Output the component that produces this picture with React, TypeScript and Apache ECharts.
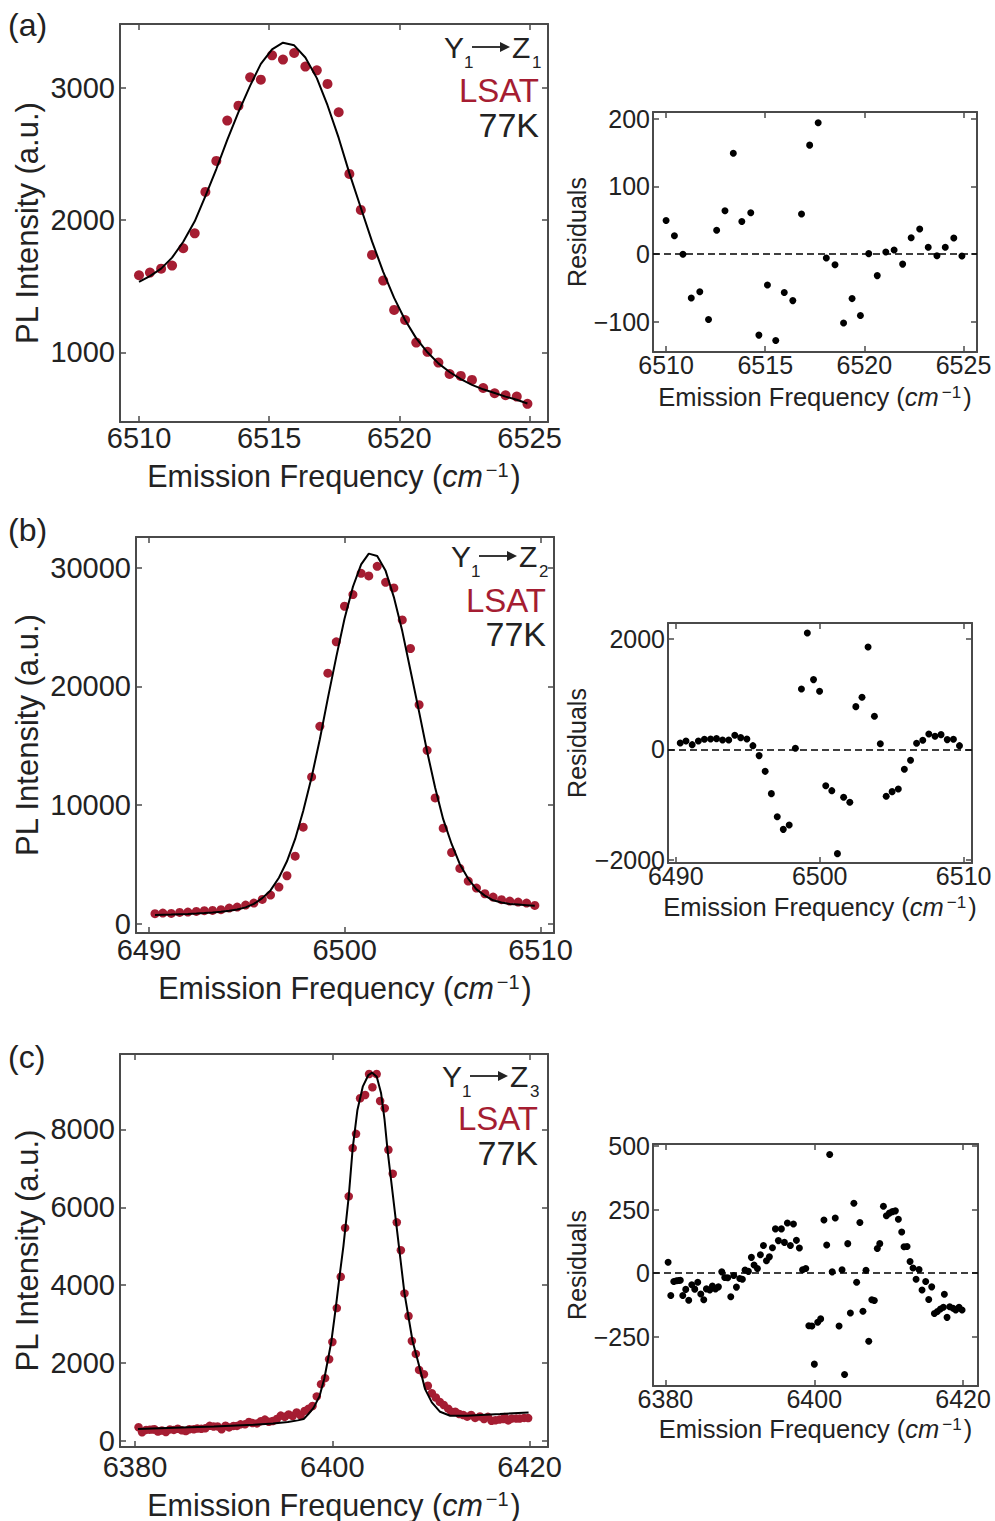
import React, { useEffect, useRef } from 'react';
import * as echarts from 'echarts';

// ---------- Panel (a): Y1 -> Z1 ----------
const A_X = [6510.00, 6510.42, 6510.85, 6511.27, 6511.70, 6512.14, 6512.55, 6512.97, 6513.39, 6513.82, 6514.27, 6514.68, 6515.11, 6515.53, 6515.96, 6516.39, 6516.83, 6517.24, 6517.67, 6518.08, 6518.52, 6518.95, 6519.38, 6519.80, 6520.22, 6520.65, 6521.08, 6521.50, 6521.93, 6522.36, 6522.79, 6523.22, 6523.66, 6524.08, 6524.51, 6524.92];
const A_Y = [1582, 1602, 1632, 1655, 1786, 1899, 2212, 2446, 2751, 2864, 3078, 3060, 3244, 3212, 3262, 3159, 3131, 3028, 2814, 2348, 2076, 1736, 1542, 1320, 1244, 1073, 1003, 922, 836, 821, 791, 730, 690, 675, 665, 610];
const A_FIT = [1532, 1575, 1632, 1715, 1835, 1990, 2180, 2385, 2605, 2815, 3015, 3180, 3290, 3340, 3320, 3228, 3072, 2867, 2620, 2354, 2092, 1838, 1608, 1411, 1244, 1105, 1000, 916, 851, 797, 754, 720, 692, 665, 641, 613];
const A_RES = [49.5, 27, -0.5, -65, -56, -97, 35, 64, 149, 48, 61, -120, -46, -128, -57, -69, 59, 161, 194, -6, -16, -102, -66, -91, 0.5, -32, 3, 6, -15, 24, 37, 10, -2.5, 10, 23.5, -3];

// ---------- Panel (b): Y1 -> Z2 ----------
const B_X = [6490.31, 6490.71, 6491.14, 6491.57, 6491.99, 6492.42, 6492.83, 6493.25, 6493.68, 6494.10, 6494.51, 6494.94, 6495.36, 6495.79, 6496.21, 6496.64, 6497.05, 6497.47, 6497.88, 6498.31, 6498.73, 6499.14, 6499.57, 6499.99, 6500.42, 6500.84, 6501.23, 6501.66, 6502.09, 6502.51, 6502.94, 6503.36, 6503.80, 6504.21, 6504.62, 6505.03, 6505.46, 6505.88, 6506.31, 6506.73, 6507.16, 6507.58, 6508.01, 6508.43, 6508.86, 6509.29, 6509.71];
const B_Y = [868, 924, 896, 980, 1008, 1064, 1120, 1148, 1204, 1345, 1429, 1597, 1765, 2073, 2437, 3109, 4062, 5714, 8151, 12381, 16639, 21120, 23753, 26751, 27731, 29524, 29300, 30112, 28768, 28291, 25602, 23193, 18459, 14622, 10616, 8067, 6022, 4678, 3613, 3025, 2549, 2269, 2045, 1933, 1849, 1765, 1569];
const B_FIT = [760, 780, 800, 825, 850, 880, 920, 970, 1030, 1110, 1220, 1400, 1690, 2180, 2830, 3900, 5280, 7160, 9520, 12360, 15550, 19020, 22490, 25700, 28390, 30270, 31180, 30980, 29730, 27520, 24660, 21340, 17860, 14520, 11470, 8830, 6740, 5040, 3810, 2920, 2390, 2000, 1810, 1690, 1640, 1590, 1540];
const B_RES = [114, 151, 84, 151, 181, 187, 193, 169, 169, 253, 211, 187, 66, -114, -398, -801, -1217, -1446, -1367, 18, 1090, 2102, 1259, 1048, -657, -747, -1885, -867, -958, 771, 940, 1849, 596, 102, -849, -765, -717, -361, -199, 108, 163, 277, 235, 265, 175, 181, 66];

// ---------- Panel (c): Y1 -> Z3 ----------
const C_X = [6380.36, 6380.72, 6381.12, 6381.48, 6381.79, 6382.00, 6382.33, 6382.73, 6383.13, 6383.54, 6383.94, 6384.34, 6384.75, 6385.15, 6385.51, 6385.96, 6386.31, 6386.72, 6387.12, 6387.57, 6387.97, 6388.37, 6388.78, 6389.18, 6389.54, 6389.99, 6390.34, 6390.70, 6391.15, 6391.55, 6391.91, 6392.36, 6392.76, 6393.17, 6393.57, 6393.97, 6394.38, 6394.78, 6395.18, 6395.58, 6395.99, 6396.39, 6396.79, 6397.20, 6397.60, 6398.00, 6398.43, 6398.86, 6399.27, 6399.68, 6400.01, 6400.46, 6400.86, 6401.30, 6401.67, 6402.07, 6402.41, 6402.82, 6403.33, 6403.73, 6404.07, 6404.50, 6404.85, 6405.32, 6405.69, 6406.13, 6406.54, 6406.95, 6407.32, 6407.73, 6408.07, 6408.47, 6408.80, 6409.29, 6409.69, 6410.09, 6410.50, 6410.90, 6411.30, 6411.75, 6412.06, 6412.47, 6412.87, 6413.27, 6413.68, 6414.08, 6414.48, 6414.97, 6415.38, 6415.78, 6416.14, 6416.54, 6416.95, 6417.35, 6417.48, 6417.84, 6418.20, 6418.65, 6419.01, 6419.45, 6419.86];
const C_Y = [354, 226, 285, 292, 296, 299, 243, 271, 232, 297, 284, 315, 273, 254, 301, 302, 320, 313, 326, 389, 371, 374, 303, 392, 349, 388, 388, 428, 428, 487, 460, 451, 509, 550, 494, 513, 564, 652, 620, 681, 643, 733, 659, 773, 829, 900, 1145, 1460, 1613, 2100, 2543, 3414, 4217, 5472, 6282, 7521, 7887, 8801, 8886, 9424, 9083, 9424, 8732, 8545, 7478, 6863, 5616, 4899, 3790, 3209, 2569, 2236, 1826, 1715, 1418, 1227, 1116, 1004, 925, 830, 752, 753, 694, 668, 625, 668, 593, 632, 566, 621, 521, 534, 549, 562, 615, 529, 577, 577, 575, 593, 588];
const C_RES = [43, -88, -33, -30, -29, -28, -88, -64, -107, -46, -63, -36, -82, -105, -62, -66, -51, -62, -54, 5, -17, -18, -93, -9, -55, -21, -24, 12, 7, 62, 32, 18, 72, 109, 49, 64, 100, 174, 128, 174, 121, 197, 109, 193, 129, 99, 13, 18, -207, -208, -358, -193, -180, 209, 111, 467, 5, 217, -208, 13, -399, 116, -157, 275, -36, 199, -150, 11, -268, -105, -108, 97, 116, 263, 226, 236, 242, 245, 212, 162, 104, 105, 46, 20, -24, 14, -66, -33, -104, -54, -159, -151, -141, -134, -83, -174, -132, -138, -145, -134, -145];
const C_FIT_X = [6380.3, 6384, 6388, 6392, 6394, 6395.5, 6396.5, 6397.1, 6397.6, 6398.1, 6398.7, 6399.2, 6399.9, 6400.35, 6400.73, 6401.13, 6401.67, 6402.07, 6402.55, 6403.09, 6403.66, 6404.05, 6404.51, 6404.95, 6405.3, 6405.6, 6406.47, 6407.32, 6408.14, 6408.9, 6409.41, 6410.09, 6410.93, 6411.95, 6413.64, 6417.0, 6419.9];
const C_FIT_Y = [310, 340, 375, 415, 450, 490, 530, 563, 700, 850, 1145, 1613, 2543, 3414, 4217, 5002, 6282, 7521, 8502, 9099, 9398, 9457, 9355, 8929, 8250, 7478, 5616, 3790, 2569, 1844, 1332, 991, 750, 648, 648, 691, 735];

// ---------- Tick labels ----------
const A_XTICKS = [6510, 6515, 6520, 6525];
const A_YTICKS = [1000, 2000, 3000];
const A_RTICKS = [-100, 0, 100, 200];
const B_XTICKS = [6490, 6500, 6510];
const B_YTICKS = [0, 10000, 20000, 30000];
const B_RTICKS = [-2000, 0, 2000];
const C_XTICKS = [6380, 6400, 6420];
const C_YTICKS = [0, 2000, 4000, 6000, 8000];
const C_RTICKS = [-250, 0, 250, 500];

const SUB_LABELS = ['1', '2', '3'];

const FONT = '"Liberation Sans", Arial, Helvetica, sans-serif';
const RED = '#A51D32';
const FRAME = '#4a4a4a';
const TXT = '#222222';

const zip = (xs: number[], ys: number[]) => xs.map((x, i) => [x, ys[i]]);
const fmt = (v: number) => String(v).replace('-', '\u2212');

type PanelCfg = {
  grid: { left: number; top: number; width: number; height: number };
  xMin: number; xMax: number; yMin: number; yMax: number;
  xTicks: number[]; yTicks: number[];
  main: boolean; xGap: number; yGap: number; xMargin: number;
};

const panels: PanelCfg[] = [
  { grid: { left: 120, top: 24, width: 428, height: 398 }, xMin: 6509.27, xMax: 6525.71, yMin: 473, yMax: 3481, xTicks: A_XTICKS, yTicks: A_YTICKS, main: true, xGap: 38, yGap: 77, xMargin: 4 },
  { grid: { left: 653, top: 112, width: 324, height: 240 }, xMin: 6509.34, xMax: 6525.68, yMin: -145, yMax: 210, xTicks: A_XTICKS, yTicks: A_RTICKS, main: false, xGap: 32, yGap: 64, xMargin: 2 },
  { grid: { left: 136, top: 537, width: 418, height: 396 }, xMin: 6489.34, xMax: 6510.69, yMin: -756, yMax: 32580, xTicks: B_XTICKS, yTicks: B_YTICKS, main: true, xGap: 39, yGap: 93, xMargin: 4.5 },
  { grid: { left: 668, top: 623, width: 304, height: 240 }, xMin: 6489.46, xMax: 6510.58, yMin: -2054, yMax: 2282, xTicks: B_XTICKS, yTicks: B_RTICKS, main: false, xGap: 31, yGap: 79, xMargin: 2 },
  { grid: { left: 120, top: 1054, width: 428, height: 394 }, xMin: 6378.48, xMax: 6421.87, yMin: -154, yMax: 9938, xTicks: C_XTICKS, yTicks: C_YTICKS, main: true, xGap: 42, yGap: 77, xMargin: 8 },
  { grid: { left: 653, top: 1144, width: 325, height: 242 }, xMin: 6378.33, xMax: 6422.0, yMin: -444, yMax: 508, xTicks: C_XTICKS, yTicks: C_RTICKS, main: false, xGap: 30, yGap: 64, xMargin: 2 },
];

function buildOption() {
  const grids: any[] = [];
  const xAxes: any[] = [];
  const yAxes: any[] = [];
  panels.forEach((p, i) => {
    grids.push({ ...p.grid, containLabel: false });
    const tickSize = p.main ? 29 : 25;
    const titleSize = p.main ? 30.5 : 25.5;
    const yTitleSize = p.main ? 31 : 25;
    const supSize = p.main ? 20 : 17;
    const line = { show: true, onZero: false, lineStyle: { color: FRAME, width: 2 } };
    const tick = (vals: number[]) => ({ show: true, inside: true, length: 6, customValues: vals, lineStyle: { color: FRAME, width: 1.5 } });
    xAxes.push({
      type: 'value', gridIndex: i, position: 'bottom', min: p.xMin, max: p.xMax,
      axisLine: line, axisTick: tick(p.xTicks), splitLine: { show: false },
      axisLabel: {
        customValues: p.xTicks, formatter: fmt, fontSize: tickSize, color: TXT, fontFamily: FONT,
        margin: p.xMargin, lineHeight: p.main ? 24 : 22,
      },
      name: '{t|Emission Frequency (}{i|cm}{s|\u22121}{t|)}',
      nameLocation: 'middle', nameGap: p.xGap,
      nameTextStyle: {
        color: TXT, fontFamily: FONT, fontSize: titleSize,
        rich: {
          t: { fontSize: titleSize, color: TXT, fontFamily: FONT },
          i: { fontSize: titleSize, color: TXT, fontFamily: FONT, fontStyle: 'italic' },
          s: { fontSize: supSize, color: TXT, fontFamily: FONT, verticalAlign: 'top', padding: [0, 2, 0, 3] },
        },
      },
    });
    xAxes.push({
      type: 'value', gridIndex: i, position: 'top', min: p.xMin, max: p.xMax,
      axisLine: line, axisTick: tick(p.xTicks), splitLine: { show: false }, axisLabel: { show: false },
    });
    yAxes.push({
      type: 'value', gridIndex: i, position: 'left', min: p.yMin, max: p.yMax,
      axisLine: line, axisTick: tick(p.yTicks), splitLine: { show: false },
      axisLabel: {
        customValues: p.yTicks, formatter: fmt, fontSize: tickSize, color: TXT, fontFamily: FONT,
        margin: p.main ? 5 : 3, lineHeight: 22,
      },
      name: p.main ? 'PL Intensity (a.u.)' : 'Residuals',
      nameLocation: 'middle', nameGap: p.yGap,
      nameTextStyle: { color: TXT, fontFamily: FONT, fontSize: yTitleSize },
    });
    yAxes.push({
      type: 'value', gridIndex: i, position: 'right', min: p.yMin, max: p.yMax,
      axisLine: line, axisTick: tick(p.yTicks), splitLine: { show: false }, axisLabel: { show: false },
    });
  });

  const mainData = [zip(A_X, A_Y), zip(B_X, B_Y), zip(C_X, C_Y)];
  const fitData = [zip(A_X, A_FIT), zip(B_X, B_FIT), zip(C_FIT_X, C_FIT_Y)];
  const resData = [zip(A_X, A_RES), zip(B_X, B_RES), zip(C_X, C_RES)];
  const dotSize = [10, 9, 8.5];

  const series: any[] = [];
  for (let k = 0; k < 3; k++) {
    const gm = 2 * k; // main grid
    const gr = 2 * k + 1; // residual grid
    series.push({
      type: 'scatter', xAxisIndex: 2 * gm, yAxisIndex: 2 * gm, data: mainData[k],
      symbolSize: dotSize[k], itemStyle: { color: RED, opacity: 1 }, z: 2, silent: true,
    });
    series.push({
      type: 'line', xAxisIndex: 2 * gm, yAxisIndex: 2 * gm, data: fitData[k],
      showSymbol: false, smooth: false, lineStyle: { color: '#000', width: 2 }, z: 3, silent: true,
    });
    series.push({
      type: 'scatter', xAxisIndex: 2 * gr, yAxisIndex: 2 * gr, data: resData[k],
      symbolSize: 7, itemStyle: { color: '#000', opacity: 1 }, z: 3, silent: true,
      markLine: {
        silent: true, symbol: 'none', label: { show: false },
        lineStyle: { color: '#000', width: 1.6, type: [7, 4], opacity: 1 },
        data: [{ yAxis: 0 }], z: 2,
      },
    });
  }

  // annotation anchors: left x of "Y", centre y of the transition line, then LSAT / 77K
  const annPos = [
    { x0: 444, right: 539, y: [47, 90, 125] },
    { x0: 451, right: 546, y: [556, 600, 634] },
    { x0: 442, right: 538, y: [1076, 1118, 1153] },
  ];
  const letters = ['(a)', '(b)', '(c)'];
  const letterY = [25, 530, 1057];
  const graphic: any[] = [];
  for (let k = 0; k < 3; k++) {
    const p = annPos[k];
    const yc = p.y[0];
    const big = { fontSize: 30, fontFamily: FONT, fill: TXT, verticalAlign: 'middle', align: 'left' };
    const small = { fontSize: 17, fontFamily: FONT, fill: TXT, verticalAlign: 'middle', align: 'left' };
    graphic.push({ type: 'text', x: p.x0, y: yc, silent: true, style: { ...big, text: 'Y' } });
    graphic.push({ type: 'text', x: p.x0 + 20, y: yc + 15, silent: true, style: { ...small, text: '1' } });
    graphic.push({
      type: 'line', silent: true,
      shape: { x1: p.x0 + 28, y1: yc, x2: p.x0 + 59, y2: yc },
      style: { stroke: TXT, lineWidth: 1.8 },
    });
    graphic.push({
      type: 'polygon', silent: true,
      shape: { points: [[p.x0 + 56, yc - 5], [p.x0 + 66, yc], [p.x0 + 56, yc + 5]] },
      style: { fill: TXT },
    });
    graphic.push({ type: 'text', x: p.x0 + 68, y: yc, silent: true, style: { ...big, text: 'Z' } });
    graphic.push({ type: 'text', x: p.x0 + 88, y: yc + 15, silent: true, style: { ...small, text: SUB_LABELS[k] } });
    graphic.push({
      type: 'text', x: p.right, y: p.y[1], silent: true,
      style: { text: 'LSAT', align: 'right', verticalAlign: 'middle', fontSize: 33, fontFamily: FONT, fill: RED },
    });
    graphic.push({
      type: 'text', x: p.right, y: p.y[2], silent: true,
      style: { text: '77K', align: 'right', verticalAlign: 'middle', fontSize: 34, fontFamily: FONT, fill: TXT },
    });
    graphic.push({
      type: 'text', x: 8, y: letterY[k], silent: true,
      style: { text: letters[k], align: 'left', verticalAlign: 'middle', fontSize: 32, fontFamily: FONT, fill: TXT },
    });
  }

  return {
    animation: false,
    backgroundColor: '#ffffff',
    grid: grids,
    xAxis: xAxes,
    yAxis: yAxes,
    series,
    graphic,
  };
}

export default function App() {
  const ref = useRef<HTMLDivElement>(null);
  useEffect(() => {
    if (!ref.current) return;
    const chart = echarts.init(ref.current, null, { renderer: 'svg' });
    chart.setOption(buildOption() as any);
    return () => chart.dispose();
  }, []);
  return (
    <div
      ref={ref}
      style={{ position: 'absolute', left: 0, top: 0, width: 995, height: 1521, background: '#fff' }}
    />
  );
}
